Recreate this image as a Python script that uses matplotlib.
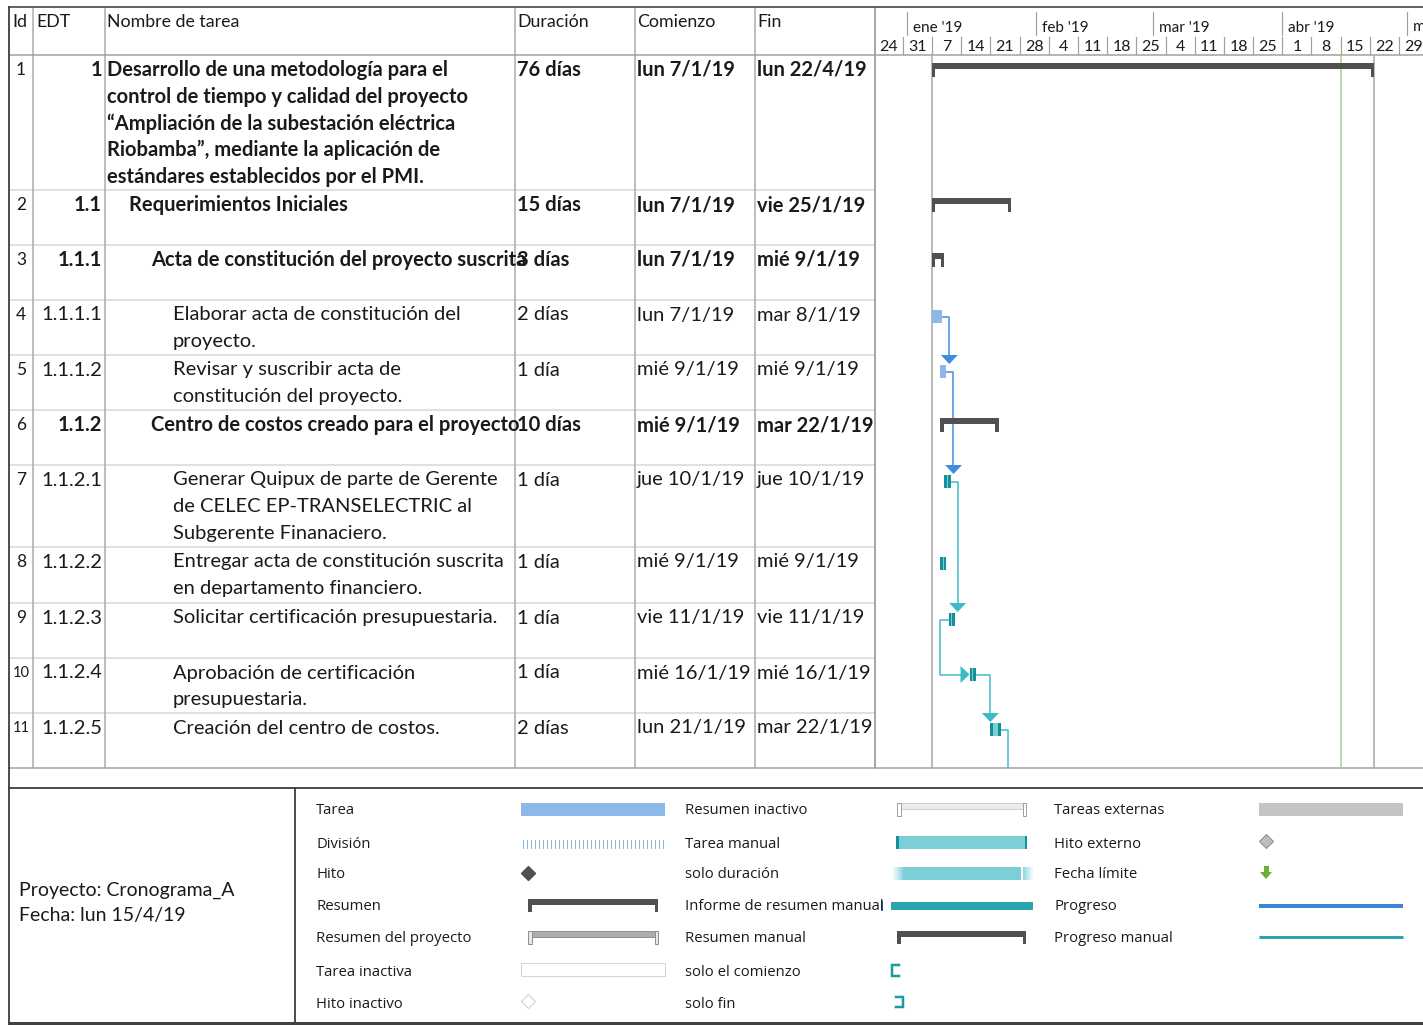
import datetime as dt
import matplotlib
matplotlib.use("Agg")
import matplotlib.pyplot as plt
import matplotlib.dates as mdates
from matplotlib.patches import Rectangle, Polygon

# ---------------- data ----------------
task_ids = [1, 2, 3, 4, 5, 6, 7, 8, 9, 10, 11]
wbs = ["1", "1.1", "1.1.1", "1.1.1.1", "1.1.1.2", "1.1.2", "1.1.2.1", "1.1.2.2",
       "1.1.2.3", "1.1.2.4", "1.1.2.5"]
task_names = [
    "Desarrollo de una metodología para el\ncontrol de tiempo y calidad del proyecto\n"
    "“Ampliación de la subestación eléctrica\nRiobamba”, mediante la aplicación de\n"
    "estándares establecidos por el PMI.",
    "Requerimientos Iniciales",
    "Acta de constitución del proyecto suscrita",
    "Elaborar acta de constitución del\nproyecto.",
    "Revisar y suscribir acta de\nconstitución del proyecto.",
    "Centro de costos creado para el proyecto",
    "Generar Quipux de parte de Gerente\nde CELEC EP-TRANSELECTRIC al\nSubgerente Finanaciero.",
    "Entregar acta de constitución suscrita\nen departamento financiero.",
    "Solicitar certificación presupuestaria.",
    "Aprobación de certificación\npresupuestaria.",
    "Creación del centro de costos.",
]
outline_level = [1, 2, 3, 4, 4, 3, 4, 4, 4, 4, 4]
durations = ["76 días", "15 días", "3 días", "2 días", "1 día", "10 días", "1 día",
             "1 día", "1 día", "1 día", "2 días"]
start_dates = ["2019-01-07", "2019-01-07", "2019-01-07", "2019-01-07", "2019-01-09",
               "2019-01-09", "2019-01-10", "2019-01-09", "2019-01-11", "2019-01-16",
               "2019-01-21"]
finish_dates = ["2019-04-22", "2019-01-25", "2019-01-09", "2019-01-08", "2019-01-09",
                "2019-01-22", "2019-01-10", "2019-01-09", "2019-01-11", "2019-01-16",
                "2019-01-22"]
task_kind = ["summary", "summary", "summary", "auto", "auto", "summary", "manual",
             "manual", "manual", "manual", "manual"]
# (predecessor id, successor id or None if below the visible rows, type)
links = [(4, 5, "FS"), (5, 7, "FS"), (7, 9, "FS"), (9, 10, "SS"), (10, 11, "FS"),
         (11, None, "FS")]
status_date = "2019-04-15"
project_name = "Cronograma_A"

week_starts = ["2018-12-24", "2018-12-31", "2019-01-07", "2019-01-14", "2019-01-21",
               "2019-01-28", "2019-02-04", "2019-02-11", "2019-02-18", "2019-02-25",
               "2019-03-04", "2019-03-11", "2019-03-18", "2019-03-25", "2019-04-01",
               "2019-04-08", "2019-04-15", "2019-04-22", "2019-04-29"]
week_labels = ["24", "31", "7", "14", "21", "28", "4", "11", "18", "25", "4", "11",
               "18", "25", "1", "8", "15", "22", "29"]
month_starts = ["2019-01-01", "2019-02-01", "2019-03-01", "2019-04-01", "2019-05-01"]
month_labels = ["ene '19", "feb '19", "mar '19", "abr '19", "may '19"]

header_labels = ["Id", "EDT", "Nombre de tarea", "Duración", "Comienzo", "Fin"]
legend_col1 = ["Tarea", "División", "Hito", "Resumen", "Resumen del proyecto",
               "Tarea inactiva", "Hito inactivo"]
legend_col2 = ["Resumen inactivo", "Tarea manual", "solo duración",
               "Informe de resumen manual", "Resumen manual", "solo el comienzo", "solo fin"]
legend_col3 = ["Tareas externas", "Hito externo", "Fecha límite", "Progreso",
               "Progreso manual"]
weekday_abbr = ["lun", "mar", "mié", "jue", "vie", "sáb", "dom"]

# ---------------- helpers ----------------
W, H = 1423, 1027
TF = "Lato"
LF = "Open Sans"


def pt(p):
    return p * 0.72


def to_date(s):
    return dt.datetime.strptime(s, "%Y-%m-%d")


def d2n(s):
    return mdates.date2num(to_date(s))


def fmt_date(s):
    d = to_date(s)
    return f"{weekday_abbr[d.weekday()]} {d.day}/{d.month}/{d.year % 100}"


fig = plt.figure(figsize=(W / 100, H / 100), dpi=100)
cv = fig.add_axes([0, 0, 1, 1])
cv.set_xlim(0, W)
cv.set_ylim(H, 0)
cv.axis("off")

# ---------------- table grid ----------------
row_tops = [55, 190, 245, 300, 355, 410, 465, 547, 603, 658, 713]
table_bottom = 768
col_x = [9, 33, 105, 515, 635, 755, 875]
GRID = "#ABABAB"
ROWL = "#D6D6D6"
DARK = "#3C3C3C"

for y in row_tops[1:]:
    cv.plot([9, 875], [y, y], color=ROWL, lw=pt(1.5), solid_capstyle="butt")
for x in col_x[1:6]:
    cv.plot([x, x], [7, table_bottom], color=GRID, lw=pt(1.5), solid_capstyle="butt")
cv.plot([875, 875], [7, table_bottom], color="#8C8C8C", lw=pt(1.5))
cv.plot([9, W], [55, 55], color="#A0A0A0", lw=pt(1.5))
cv.plot([9, W], [table_bottom, table_bottom], color="#A0A0A0", lw=pt(1.5))
cv.plot([9, W], [7, 7], color="#555555", lw=pt(1.8))
cv.plot([9, 9], [7, 1023], color=DARK, lw=pt(1.8))
cv.plot([9, W], [788, 788], color=DARK, lw=pt(1.8))
cv.plot([295, 295], [788, 1023], color=DARK, lw=pt(1.8))
cv.plot([9, W], [1023, 1023], color="#404040", lw=pt(3))

# header
hdr_x = [12, 36, 107, 517, 637, 757]
for x, lbl in zip(hdr_x, header_labels):
    cv.text(x, 22, lbl, ha="left", va="center", fontsize=12.8, family=TF, color="#1a1a1a")

# table body
LINE = 26.7
BODY_FS = 14.5
for i in range(len(task_ids)):
    top = row_tops[i]
    bottom = row_tops[i + 1] if i + 1 < len(row_tops) else table_bottom
    bold = task_kind[i] == "summary"
    fw = "bold" if bold else "normal"
    y0 = top + 15
    cv.text(21, y0, str(task_ids[i]), ha="center", va="center",
            fontsize=12.5 if task_ids[i] < 10 else 10.5, family=TF, color="#1a1a1a")
    cv.text(102, y0, wbs[i], ha="right", va="center", fontsize=BODY_FS, family=TF,
            fontweight=fw, color="#1a1a1a")
    nx = 107 + 22 * (outline_level[i] - 1)
    clip = Rectangle((105, top), 408, bottom - top, transform=cv.transData)
    for k, line in enumerate(task_names[i].split("\n")):
        t = cv.text(nx, y0 + k * LINE, line, ha="left", va="center", fontsize=BODY_FS,
                    family=TF, fontweight=fw, color="#1a1a1a")
        t.set_clip_path(clip)
    for x0, x1, txt in [(515, 635, durations[i]), (635, 755, fmt_date(start_dates[i])),
                        (755, 875, fmt_date(finish_dates[i]))]:
        t = cv.text(x0 + 2, y0, txt, ha="left", va="center", fontsize=BODY_FS, family=TF,
                    fontweight=fw, color="#1a1a1a")
        t.set_clip_path(Rectangle((x0, top), x1 - x0, bottom - top, transform=cv.transData))

# ---------------- gantt axes ----------------
gx0, gx1, gy0, gy1 = 875, 1423, 55, table_bottom
xl = (mdates.date2num(dt.datetime(2018, 12, 24, 8)), mdates.date2num(dt.datetime(2019, 5, 4, 18)))
ax = fig.add_axes([gx0 / W, 1 - gy1 / H, (gx1 - gx0) / W, (gy1 - gy0) / H])
ax.set_xlim(xl)
ax.set_ylim(gy1, gy0)
ax.axis("off")
ppd = (gx1 - gx0) / (xl[1] - xl[0])


def dpx(p):
    return p / ppd


SUMC = "#505050"
AUTO = "#8DB9EA"
MAN_FILL = "#7BCFD7"
MAN_CAP = "#158F99"
LINK_BLUE = "#3F8DE0"
LINK_TEAL = "#3CBAC6"

# vertical markers
ax.axvline(d2n(start_dates[0]), color="#A6A6A6", lw=pt(1.5))
ax.axvline(d2n(status_date), color="#A9D18E", lw=pt(1.5))
ax.axvline(d2n(finish_dates[0]) + 1, color="#A6A6A6", lw=pt(1.5))


def geom(i):
    s = d2n(start_dates[i])
    e = d2n(finish_dates[i]) + 1
    top = row_tops[i]
    return s, e, top


for i in range(len(task_ids)):
    s, e, top = geom(i)
    if task_kind[i] == "summary":
        cw = dpx(3.5)
        ax.add_patch(Rectangle((s, top + 8), e - s, 6, fc=SUMC, ec="none", zorder=3))
        ax.add_patch(Rectangle((s, top + 8), cw, 14, fc=SUMC, ec="none", zorder=3))
        ax.add_patch(Rectangle((e - cw, top + 8), cw, 14, fc=SUMC, ec="none", zorder=3))
    elif task_kind[i] == "auto":
        ax.add_patch(Rectangle((s, top + 10), e - s + dpx(1.5), 13, fc=AUTO, ec="none", zorder=3))
    else:
        w = e - s + dpx(2)
        cw = dpx(2.5)
        ax.add_patch(Rectangle((s, top + 10), w, 13, fc=MAN_FILL, ec="none", zorder=3))
        ax.add_patch(Rectangle((s, top + 10), cw, 13, fc=MAN_CAP, ec="none", zorder=3))
        ax.add_patch(Rectangle((s + w - cw, top + 10), cw, 13, fc=MAN_CAP, ec="none", zorder=3))

# links
for p, q, typ in links:
    pi = p - 1
    ps, pe, ptop = geom(pi)
    pe = pe + dpx(2)
    pyc = ptop + 16.5
    col = LINK_BLUE if task_kind[pi] == "auto" else LINK_TEAL
    if typ == "FS":
        if q is None:
            xv = pe + dpx(7)
            ax.plot([pe, xv, xv], [pyc, pyc, gy1], color=col, lw=pt(1.5), zorder=2)
            continue
        qs, qe, qtop = geom(q - 1)
        xv = max(pe + dpx(7), qs)
        tip = qtop + 9
        ax.plot([pe, xv, xv], [pyc, pyc, tip - 8], color=col, lw=pt(1.5), zorder=2)
        ax.add_patch(Polygon([(xv - dpx(8.5), tip - 9), (xv + dpx(8.5), tip - 9), (xv, tip)],
                             closed=True, fc=col, ec="none", zorder=4))
    else:  # start-to-start
        qs, qe, qtop = geom(q - 1)
        qyc = qtop + 16.5
        xv = ps - dpx(9)
        ax.plot([ps, xv, xv, qs - dpx(8)], [pyc, pyc, qyc, qyc], color=col, lw=pt(1.5), zorder=2)
        ax.add_patch(Polygon([(qs - dpx(9), qyc - 8.5), (qs - dpx(9), qyc + 8.5), (qs, qyc)],
                             closed=True, fc=col, ec="none", zorder=4))

# ---------------- timescale header ----------------
hx = fig.add_axes([gx0 / W, 1 - 55 / H, (gx1 - gx0) / W, 48 / H])
hx.set_xlim(xl)
hx.set_ylim(55, 7)
hx.axis("off")
for d, lbl in zip(week_starts, week_labels):
    x = d2n(d)
    hx.plot([x, x], [37, 55], color="#A0A0A0", lw=pt(1.2))
    hx.text(x + 3.5, 47, lbl, ha="center", va="center", fontsize=11.5, family=TF,
            color="#1a1a1a", clip_on=True)
for d, lbl in zip(month_starts, month_labels):
    x = d2n(d)
    hx.plot([x, x], [12, 35], color="#A0A0A0", lw=pt(1.2))
    hx.text(x + dpx(6), 27.5, lbl, ha="left", va="center", fontsize=11, family=TF,
            color="#1a1a1a", clip_on=True)

# ---------------- legend ----------------
cv.text(19, 890, f"Proyecto: {project_name}", ha="left", va="center", fontsize=14,
        family=TF, color="#1a1a1a")
cv.text(19, 916, f"Fecha: {fmt_date(status_date)}", ha="left", va="center", fontsize=14,
        family=TF, color="#1a1a1a")

leg_y = [811, 844, 875, 907, 939, 972, 1004]
for y, lbl in zip(leg_y, legend_col1):
    cv.text(316, y, lbl, ha="left", va="center", fontsize=10.7, family=LF, color="#1a1a1a")
for y, lbl in zip(leg_y, legend_col2):
    cv.text(685, y, lbl, ha="left", va="center", fontsize=10.7, family=LF, color="#1a1a1a")
for y, lbl in zip(leg_y, legend_col3):
    cv.text(1054, y, lbl, ha="left", va="center", fontsize=10.7, family=LF, color="#1a1a1a")


def summary_swatch(x0, x1, y, fc, ec="none", capfc=None, capec="none"):
    capfc = capfc or fc
    cv.add_patch(Rectangle((x0, y), x1 - x0, 6, fc=fc, ec=ec, lw=pt(1)))
    cv.add_patch(Rectangle((x0, y), 3.5, 13, fc=capfc, ec=capec, lw=pt(1)))
    cv.add_patch(Rectangle((x1 - 3.5, y), 3.5, 13, fc=capfc, ec=capec, lw=pt(1)))


# column 1
cv.add_patch(Rectangle((521, 803), 144, 13, fc=AUTO, ec="none"))
for x in range(523, 665, 4):
    cv.plot([x, x], [840, 848], color="#8FB3D6", lw=pt(1))
cv.plot([528], [873], marker="D", ms=7, color="#505050", mec="#505050")
summary_swatch(528, 658, 899, SUMC)
summary_swatch(528, 658, 931, "#ADADAD", ec="#8F8F8F", capfc="#E8E8E8", capec="#8F8F8F")
cv.add_patch(Rectangle((521, 963), 144, 13, fc="white", ec="#D4D4D4", lw=pt(1)))
cv.plot([528], [1001], marker="D", ms=7, color="white", mec="#CCCCCC", mew=pt(1))

# column 2
summary_swatch(897, 1026, 803, "#ECECEC", ec="#CFCFCF", capfc="white", capec="#A0A0A0")
cv.add_patch(Rectangle((896, 836), 131, 13, fc=MAN_FILL, ec="none"))
cv.add_patch(Rectangle((896, 836), 2.5, 13, fc=MAN_CAP, ec="none"))
cv.add_patch(Rectangle((1024.5, 836), 2.5, 13, fc=MAN_CAP, ec="none"))
for k, a in enumerate([0.15, 0.3, 0.45, 0.6, 0.8]):
    cv.add_patch(Rectangle((893 + 2 * k, 867), 2, 13, fc=MAN_FILL, ec="none", alpha=a))
    cv.add_patch(Rectangle((1031 - 2 * k, 867), 2, 13, fc=MAN_FILL, ec="none", alpha=a))
cv.add_patch(Rectangle((903, 867), 128 - 10, 13, fc=MAN_FILL, ec="none"))
cv.add_patch(Rectangle((881, 901), 2, 10, fc="#1F7FC0", ec="none"))
cv.add_patch(Rectangle((891, 902), 142, 8, fc="#2AA4AD", ec="none"))
summary_swatch(897, 1026, 931, SUMC)
cv.plot([899, 892, 892, 899], [964.5, 964.5, 975.5, 975.5], color="#1A9AA3", lw=pt(2.5),
        solid_joinstyle="miter")
cv.plot([896, 903, 903, 896], [996.5, 996.5, 1006.5, 1006.5], color="#1A9AA3", lw=pt(2.5),
        solid_joinstyle="miter")

# column 3
cv.add_patch(Rectangle((1259, 803), 144, 13, fc="#C4C4C4", ec="none"))
cv.plot([1266], [841], marker="D", ms=7, color="#BDBDBD", mec="#8A8A8A", mew=pt(1))
cv.add_patch(Rectangle((1263.5, 866), 5, 6, fc="#6BAE36", ec="none"))
cv.add_patch(Polygon([(1260, 872), (1272, 872), (1266, 879)], closed=True, fc="#6BAE36", ec="none"))
cv.plot([1259, 1403], [905.5, 905.5], color="#3C84D6", lw=pt(4), solid_capstyle="butt")
cv.plot([1259, 1403], [937, 937], color="#2AA5AE", lw=pt(3), solid_capstyle="butt")

fig.savefig("out.png", dpi=100)
